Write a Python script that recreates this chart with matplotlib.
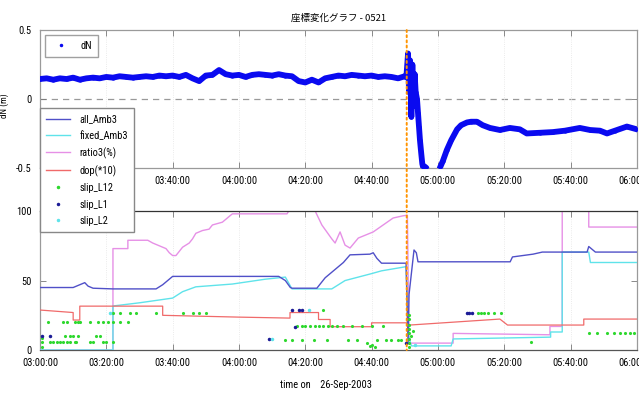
import matplotlib
matplotlib.use('Agg')
import matplotlib.pyplot as plt
from matplotlib import font_manager
from matplotlib.lines import Line2D
from matplotlib.patches import ConnectionPatch

# narrow latin font if one is installed, otherwise smaller DejaVu
_fonts = font_manager.fontManager.ttflist
_names = {f.name for f in _fonts}
NARROW = None
for cand in ['Liberation Sans Narrow', 'Roboto Condensed', 'Open Sans Condensed']:
    if cand in _names:
        NARROW = cand
        break
if NARROW:
    plt.rcParams['font.family'] = [NARROW, 'DejaVu Sans']
    FS = 7.5
elif any(f.name == 'DejaVu Sans' and 'condensed' in str(f.stretch) for f in _fonts):
    plt.rcParams['font.family'] = ['DejaVu Sans']
    plt.rcParams['font.stretch'] = 'condensed'
    FS = 6.5
else:
    plt.rcParams['font.family'] = ['DejaVu Sans']
    FS = 6.0
plt.rcParams['axes.unicode_minus'] = False

# time axis: minutes after 03:00:00
tick_pos = [0, 20, 40, 60, 80, 100, 120, 140, 160, 180]
tick_labels = ['03:00:00', '03:20:00', '03:40:00', '04:00:00', '04:20:00',
               '04:40:00', '05:00:00', '05:20:00', '05:40:00', '06:00:00']
# upper panel: first two labels sit under the legend
top_tick_labels = ['', '', '03:40:00', '04:00:00', '04:20:00',
                   '04:40:00', '05:00:00', '05:20:00', '05:40:00', '06:00:00']
event_t = 110.6

# ---- upper panel: dN (m) ----
dn_t = [0, 2, 4, 6, 8, 10, 12, 14, 16, 18, 20, 22, 24, 26, 28, 30, 32, 34, 36, 38,
        40, 42, 44, 46, 48, 50, 52, 54, 56, 58, 60, 62, 64, 66, 68, 70, 72, 74, 76, 78,
        80, 82, 84, 86, 88, 90, 92, 94, 96, 98, 100, 102, 104, 106, 108, 110,
        110.5, 111.0, 111.3, 111.6, 112.0, 112.3, 112.6, 113.0, 113.3, 113.7, 114.0,
        114.3, 114.6, 115.0, 115.3, 115.6, 116.0, 116.5, 117.0, 118.0, 119.0, 120.0,
        120.6, 121.5, 122.7, 124.0, 125.8, 127.0, 128.8, 130.0, 131.8, 133.5, 135.7,
        138.7, 141.7, 144.7, 146.8, 150.8, 154.7, 158.3, 162.8, 165.9, 168.9, 171.0,
        173.4, 177.0, 180.0]
dn_v = [0.145, 0.15, 0.14, 0.15, 0.145, 0.155, 0.14, 0.15, 0.155, 0.15, 0.16, 0.155,
        0.165, 0.16, 0.155, 0.16, 0.165, 0.16, 0.17, 0.165, 0.17, 0.16, 0.175, 0.15,
        0.13, 0.17, 0.175, 0.21, 0.18, 0.17, 0.175, 0.16, 0.175, 0.18, 0.175, 0.17,
        0.18, 0.17, 0.165, 0.13, 0.12, 0.14, 0.12, 0.15, 0.16, 0.17, 0.165, 0.175,
        0.17, 0.165, 0.17, 0.16, 0.165, 0.16, 0.15, 0.165,
        0.16, 0.33, 0.05, 0.28, -0.13, 0.25, -0.05, 0.18, 0.05, 0.0, -0.1,
        -0.2, -0.3, -0.4, -0.47, -0.5, -0.49, -0.5, -0.55, -0.7, -0.7, -0.6,
        -0.5, -0.45, -0.37, -0.3, -0.22, -0.19, -0.17, -0.165, -0.165, -0.19, -0.21,
        -0.225, -0.21, -0.22, -0.25, -0.245, -0.24, -0.23, -0.21, -0.225, -0.23, -0.25,
        -0.23, -0.2, -0.22]

# ---- lower panel ----
all_t = [0, 10, 12, 13.5, 14.5, 16, 22, 35, 37, 38.5, 40, 72, 74, 75.5, 76, 83.5, 86,
         88, 90, 91.5, 93.5, 99.5, 100.5, 101.6, 103, 110.4, 111, 111.3, 112.8, 113.5,
         114, 141.8, 142.5, 148.7, 151.5, 165, 165.5, 167.5, 180]
all_v = [45, 45, 47, 48.5, 46, 44.5, 44, 44, 47, 50, 53, 53, 50, 45, 44.5, 44.5, 52,
         56, 60, 63, 68.5, 69, 70, 66, 62.5, 62.5, 5, 40, 72, 70, 63.5, 63.5, 67, 69,
         70.5, 70.5, 74.5, 70.5, 70.5]

fix_t = [0, 22, 22, 30, 40, 43, 47, 58, 68, 74, 76, 88, 92, 100, 103, 110.4, 111.2,
         112, 124, 124.6, 154, 154, 157.5, 157.5, 165.5, 166, 180]
fix_v = [0, 0, 31.7, 34, 37.4, 42, 45.5, 47.5, 51, 52.5, 44, 44, 50, 55, 57, 60, 10,
         3, 3, 8, 9.3, 13, 13, 70.5, 70.5, 63, 63]

ratio_t = [0, 22, 22, 26.5, 26.5, 32.5, 34, 36, 38, 39, 40, 41, 42, 43, 45, 46, 47,
           49, 51, 52, 55, 58, 74.5, 75, 83, 85, 88, 89, 90.5, 92, 93.5, 96, 100.5,
           103.5, 106.5, 109.5, 110.8, 111.3, 124.6, 124.6, 153.8, 153.8, 157.5,
           157.5, 165.5, 165.5, 180]
ratio_v = [0, 0, 73, 73, 79, 79, 77, 75, 73, 70, 68, 68, 71, 74, 77, 80, 84, 86, 87,
           90, 92, 98, 98, 100, 100, 90, 80, 77, 85, 75.5, 73.4, 80.6, 85, 90, 95,
           96.6, 97, 5, 5, 12, 11, 17, 17, 100, 100, 88.5, 88.5]

dop_t = [0, 10, 10, 12, 12, 37, 37, 60, 75.4, 75.4, 84, 84, 87.5, 87.5, 100, 100,
         110.7, 111.5, 138.7, 141, 164, 164, 180]
dop_v = [28.8, 27, 21.6, 21.6, 31.6, 31.6, 25, 23.7, 23, 27, 27, 22, 22, 16.8, 16.8,
         19.6, 19.6, 18, 22.3, 18, 18, 22.3, 22.3]

slip12_t = [22, 24, 27, 29, 35, 43, 46, 48, 50,
            2.5, 7, 8, 10.5, 11.5, 12, 15, 17.5, 19, 20.5, 22, 24, 26.5,
            7.5, 9, 10, 11.5, 17, 18,
            0.5, 3, 4, 5, 6, 7, 8, 9, 10.5, 11, 15, 16, 19, 20, 22, 0.5, 0.5,
            77.5, 79, 80, 81.5, 83, 84, 85.5, 87, 88, 89.5, 91.5, 94, 97, 100, 103.5,
            74, 76, 79, 82.5, 86.5, 93, 95.5, 98.5, 100, 101.5, 104.5, 106, 108, 109,
            85.5, 99.5, 101,
            111.2, 111.2, 111.2, 111.2, 111.2, 111.2, 111.2, 111.2, 112, 112.5,
            132, 133, 134, 135, 137, 139, 148,
            165.5, 168, 171, 173, 175, 176.5, 178, 179]
slip12_v = [26.8, 26.8, 26.8, 26.8, 26.8, 26.8, 26.8, 26.8, 26.8,
            20, 20, 20, 20, 20, 20, 20, 20, 20, 20, 20, 20, 20,
            10.3, 10.3, 10.3, 10.3, 10.3, 10.3,
            5.8, 5.8, 5.8, 5.8, 5.8, 5.8, 5.8, 5.8, 5.8, 5.8, 5.8, 5.8, 5.8, 5.8, 5.8,
            2.5, 8.5,
            17.3, 17.3, 17.3, 17.3, 17.3, 17.3, 17.3, 17.3, 17.3, 17.3, 17.3, 17.3,
            17.3, 17.3, 17.3,
            7.2, 7.2, 7.2, 7.2, 7.2, 7.2, 7.2, 5, 4, 7.2, 7.2, 7.2, 7.2, 7.2,
            29, 3, 2,
            2, 5, 8, 12, 15, 18, 22, 25, 10, 14,
            26.5, 26.5, 26.5, 26.5, 26.5, 26.5, 6,
            12.5, 12.5, 12.5, 12.5, 12.5, 12.5, 12.5, 12.5]

slip1_t = [0.5, 3, 69, 76, 78, 79, 77, 110.5, 128.8, 129.5, 130.2]
slip1_v = [10, 10, 8, 28.8, 28.8, 28.8, 16.8, 5, 26.5, 26.5, 26.5]

slip2_t = [21, 70, 81, 113]
slip2_v = [27, 8, 29, 4]

C_DN = '#0a0af0'
C_ALL = '#5050c8'
C_FIX = '#5fe3ea'
C_RATIO = '#e690e6'
C_DOP = '#f06a6a'
C_S12 = '#2ed82e'
C_S1 = '#1c1c96'
C_S2 = '#5fe3ea'

fig = plt.figure(figsize=(6.39, 3.96), dpi=100)
ax1 = fig.add_axes([0.0626, 0.576, 0.934, 0.348])
ax2 = fig.add_axes([0.0626, 0.116, 0.934, 0.351])
ax2.set_zorder(2)

# upper panel
ax1.axhline(0, color='#999999', lw=0.9, ls=(0, (5, 4)), zorder=1)
ax1.plot(dn_t, dn_v, color=C_DN, lw=4.2, marker='.', ms=4, zorder=3)
ax1.set_xlim(0, 180)
ax1.set_ylim(-0.5, 0.5)
ax1.set_yticks([-0.5, 0, 0.5])
ax1.set_yticklabels(['-0.5', '0', '0.5'])
ax1.set_ylabel('dN (m)', fontsize=FS - 1)
ax1.yaxis.set_label_coords(-0.052, 0.45)
ax1.set_title('座標変化グラフ - 0521', fontsize=6.8,
              family=['Noto Sans CJK JP', 'DejaVu Sans'], pad=7)
h_dn = Line2D([], [], color=C_DN, marker='.', ms=3, ls='none', label='dN')
ax1.legend(handles=[h_dn], loc='upper left', fontsize=FS, frameon=True,
           fancybox=False, edgecolor='#888888', borderaxespad=0.45,
           handlelength=2.0, borderpad=0.6)

# lower panel
ax2.plot(ratio_t, ratio_v, color=C_RATIO, lw=1.0, zorder=2)
ax2.plot(fix_t, fix_v, color=C_FIX, lw=1.0, zorder=3)
ax2.plot(all_t, all_v, color=C_ALL, lw=1.0, zorder=4)
ax2.plot(dop_t, dop_v, color=C_DOP, lw=0.9, zorder=3)
ax2.plot(slip12_t, slip12_v, ls='none', marker='.', ms=2.5, color=C_S12, zorder=5)
ax2.plot(slip1_t, slip1_v, ls='none', marker='.', ms=3, color=C_S1, zorder=5)
ax2.plot(slip2_t, slip2_v, ls='none', marker='.', ms=3, color=C_S2, zorder=5)
ax2.set_xlim(0, 180)
ax2.set_ylim(0, 100)
ax2.set_yticks([0, 50, 100])

for ax, labels in ((ax1, top_tick_labels), (ax2, tick_labels)):
    ax.set_xticks(tick_pos)
    ax.set_xticklabels(labels)
    ax.tick_params(direction='in', length=4, width=0.6, color='#777777',
                   labelsize=FS, top=True, right=True, pad=6)
    ax.grid(axis='x', color='#e4e4e4', ls=':', lw=0.6)
    for s in ax.spines.values():
        s.set_color('#9a9a9a')
        s.set_linewidth(0.9)
ax2.spines['top'].set_color('#333333')
ax2.spines['bottom'].set_color('#555555')

handles = [
    Line2D([], [], color=C_ALL, lw=1.0, label='all_Amb3'),
    Line2D([], [], color=C_FIX, lw=1.0, label='fixed_Amb3'),
    Line2D([], [], color=C_RATIO, lw=1.0, label='ratio3(%)'),
    Line2D([], [], color=C_DOP, lw=1.0, label='dop(*10)'),
    Line2D([], [], color=C_S12, marker='.', ms=3, ls='none', label='slip_L12'),
    Line2D([], [], color=C_S1, marker='.', ms=3, ls='none', label='slip_L1'),
    Line2D([], [], color=C_S2, marker='.', ms=3, ls='none', label='slip_L2'),
]
leg = ax2.legend(handles=handles, loc='upper left', bbox_to_anchor=(0, 1.742),
                 borderaxespad=0, fontsize=FS, frameon=True, fancybox=False,
                 edgecolor='#888888', framealpha=1, handlelength=2.3,
                 handletextpad=0.9, labelspacing=0.62, borderpad=0.6)
leg.set_zorder(20)

# event marker through both panels
con = ConnectionPatch(xyA=(event_t, 0.5), coordsA=ax1.transData,
                      xyB=(event_t, 0), coordsB=ax2.transData,
                      color='#ff9400', lw=1.4, ls=':', zorder=30)
fig.add_artist(con)

fig.text(326 / 639, 1 - 385 / 396, 'time on    26-Sep-2003', ha='center',
         va='center', fontsize=FS)

fig.savefig('out.png', dpi=100)
